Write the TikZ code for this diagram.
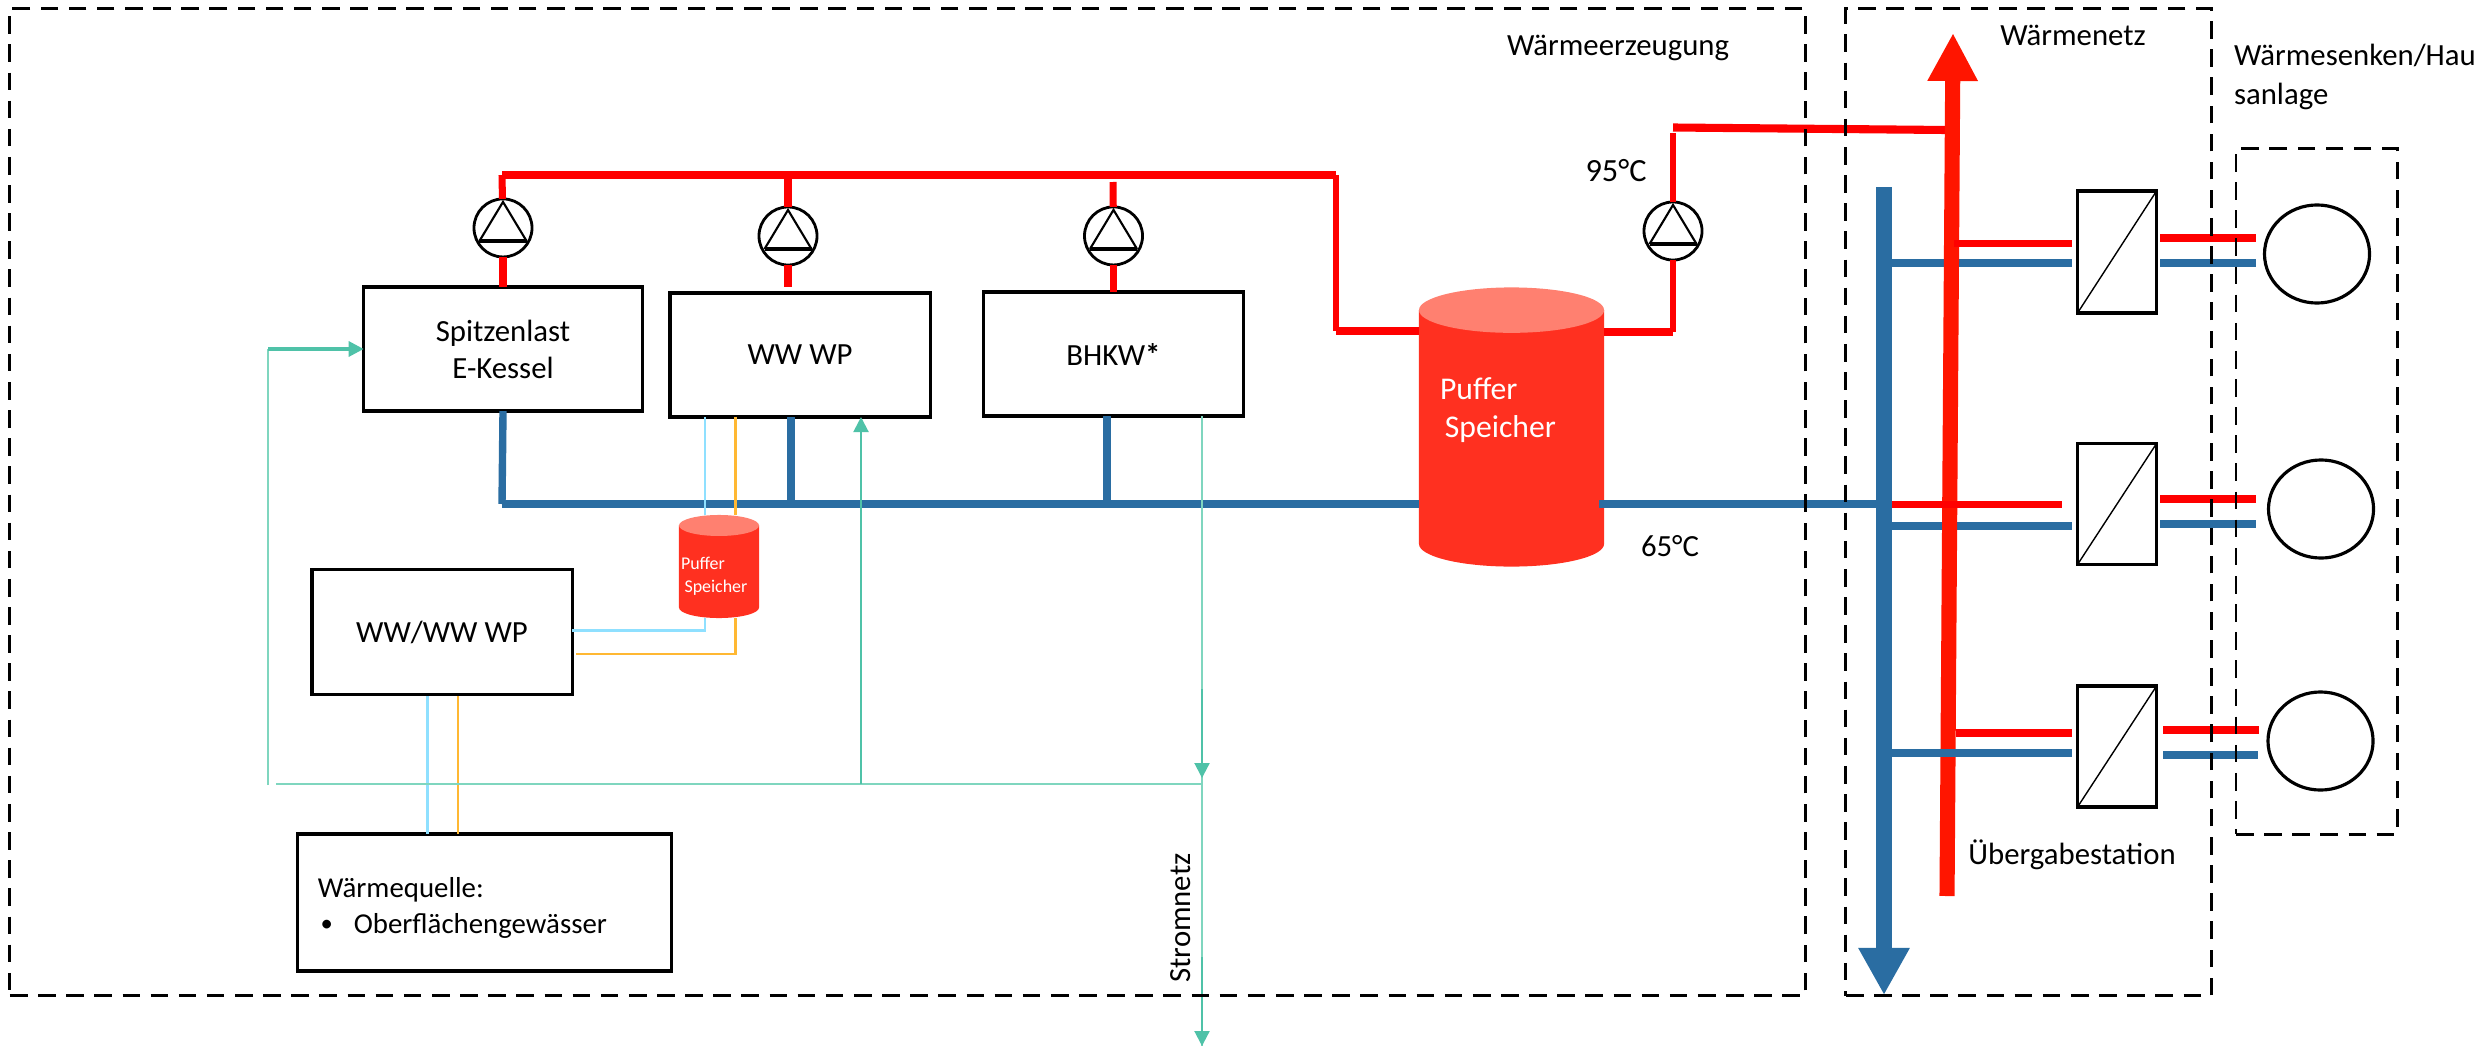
\documentclass[tikz,border=0pt]{standalone}
\usepackage{fontspec}
\setmainfont{Carlito}
\usepackage{tikz}
\usetikzlibrary{arrows.meta,positioning,shapes.geometric}

\definecolor{hotred}{HTML}{FF0000}
\definecolor{mainred}{HTML}{FF1500}
\definecolor{coldblue}{HTML}{2A6DA2}
\definecolor{tankbody}{HTML}{FF3020}
\definecolor{tanktop}{HTML}{FF8070}
\definecolor{gridgreen}{HTML}{4FC2A8}
\definecolor{gridlight}{HTML}{7FD6BF}
\definecolor{sourceblue}{HTML}{8FE0FF}
\definecolor{sourceorange}{HTML}{FFB833}

\begin{document}
\begin{tikzpicture}[
  x=0.01cm, y=-0.01cm,
  every node/.style={inner sep=0pt, outer sep=0pt, align=center, font=\fontsize{8.75}{10.5}\selectfont},
  box/.style={draw, line width=0.9pt, minimum width=2.6cm, minimum height=1.24cm},
  zone/.style={draw, line width=0.85pt, dash pattern=on 5pt off 3pt},
  pump/.style={circle, draw, line width=0.8pt, minimum size=0.58cm, path picture={
    \draw[line width=0.6pt, shift={(path picture bounding box.center)}] (-0.235cm,-0.13cm) -- (0cm,0.26cm) -- (0.235cm,-0.13cm);
    \draw[line width=1.2pt, shift={(path picture bounding box.center)}] (-0.235cm,-0.13cm) -- (0.235cm,-0.13cm);}},
  station/.style={draw, line width=0.9pt, minimum width=0.79cm, minimum height=1.22cm, path picture={
    \draw[line width=0.4pt] (path picture bounding box.south west) -- (path picture bounding box.north east);}},
  sink/.style={ellipse, draw, line width=0.9pt, minimum width=1.05cm, minimum height=0.98cm},
  tankshape/.style n args={2}{path picture={
    \fill[tankbody] ([yshift=-#2]path picture bounding box.north west) -- ([yshift=#2]path picture bounding box.south west)
      arc[start angle=180, end angle=360, x radius=#1, y radius=#2] -- ([yshift=-#2]path picture bounding box.north east) -- cycle;
    \fill[tanktop] ([yshift=-#2]path picture bounding box.north) ellipse[x radius=#1, y radius=#2];}},
  hotpipe/.style={hotred, line width=2pt},
  riser/.style={hotred, line width=1.6pt},
  coldpipe/.style={coldblue, line width=2.1pt},
  mainhot/.style={mainred, line width=4.3pt, -{Triangle[length=0.48cm,width=0.47cm]}},
  maincold/.style={coldblue, line width=4.5pt, -{Triangle[length=0.47cm,width=0.48cm]}},
  powerline/.style={gridlight, line width=0.6pt},
  powerarrow/.style={gridgreen, line width=0.6pt, -{Triangle[length=0.15cm,width=0.15cm]}},
  sourceA/.style={sourceblue, line width=0.8pt},
  sourceB/.style={sourceorange, line width=0.8pt}
]
  % Boxes
  \node[box, minimum width=2.785cm] (kessel) at (503,349) {Spitzenlast\\E-Kessel};
  \node[box] (wwp) at (800,355) {WW WP};
  \node[box] (bhkw) at (1113.5,354) {BHKW\textbf{*}};
  \node[box, minimum height=1.25cm] (wasserwp) at (442,632) {WW/WW WP};
  \node[box, minimum width=3.73cm, minimum height=1.37cm, text width=3.33cm, align=left, font=\fontsize{8.2}{10.2}\selectfont] (quelle) at (484.5,902.5)
    {\rule{0pt}{9pt}Wärmequelle:\\\makebox[10.2pt][l]{\hspace{0.8pt}\raisebox{0.6pt}{\fontsize{7}{7}\selectfont•}}Oberflächengewässer};

  % Pumps
  \node[pump, above=0.3cm of kessel] (pumpA) {};
  \node[pump] (pumpB) at (788,236) {};
  \node[pump, above=0.27cm of bhkw] (pumpC) {};
  \node[pump] (pumpD) at (1673,231) {};

  % Tanks
  \node[tankshape={0.925cm}{0.227cm}, minimum width=1.85cm, minimum height=2.79cm] (tank) at (1511.5,427) {};
  \node[tankshape={0.4cm}{0.105cm}, minimum width=0.8cm, minimum height=1.03cm] (smalltank) at (719,566.5) {};
  \node[anchor=west, align=left, text=white, font=\fontsize{9}{11}\selectfont] (tanklabel) at (1440,410) {Puffer\\\hspace{1.4pt}Speicher};
  \node[anchor=west, align=left, text=white, font=\fontsize{5.1}{6.5}\selectfont] (smalllabel) at (681,576) {Puffer\\\hspace{1pt}Speicher};

  % Hot side
  \coordinate (railA) at (502,175);
  \coordinate (railB) at (788,175);
  \coordinate (railC) at (1113,182);
  \coordinate (railD) at (1336,175);
  \coordinate (tankin) at (1336,331);
  \coordinate (tankout) at (1673,332);
  \coordinate (pumpBend) at (788,287);
  \coordinate (feedA) at (1673,133);
  \coordinate (feedB) at (1673,127.5);
  \coordinate (feedC) at (1946,130);
  \draw[hotpipe] (railA) -- (railD);
  \draw[riser] (railD) -- (tankin);
  \draw[hotpipe] (tankin) -- (tankin -| tank.west);
  \draw[hotpipe] (railA) -- (pumpA);
  \draw[hotpipe] (pumpA) -- (kessel);
  \draw[hotpipe] (railB) -- (pumpB);
  \draw[hotpipe] (pumpB) -- (pumpBend);
  \draw[hotpipe] (railC) -- (pumpC);
  \draw[hotpipe] (pumpC) -- (bhkw);
  \draw[hotpipe] (tankout -| tank.east) -- (tankout);
  \draw[riser] (tankout) -- (pumpD);
  \draw[riser] (pumpD) -- (feedA);
  \draw[hotpipe, line width=2.3pt] (feedB) -- (feedC);

  % Cold side
  \coordinate (coldA) at (502,504);
  \coordinate (coldB) at (791,504);
  \coordinate (coldC) at (1107,504);
  \coordinate (tankret) at (1599,504);
  \coordinate (busA) at (1884,504);
  \draw[coldpipe] (kessel.south) -- (coldA);
  \draw[coldpipe] (coldA) -- (coldA -| tank.west);
  \draw[coldpipe] (coldB |- wwp.south) -- (coldB);
  \draw[coldpipe] (coldC |- bhkw.south) -- (coldC);
  \draw[coldpipe] (tankret) -- (busA);

  % Source loop
  \coordinate (loopA) at (705,417);
  \coordinate (loopB) at (705,630.5);
  \coordinate (loopC) at (735.5,417);
  \coordinate (loopD) at (735.5,654);
  \coordinate (wellA) at (427.7,696);
  \coordinate (wellB) at (458,696);
  \draw[sourceA] (loopA) -- (loopA |- smalltank.north);
  \draw[sourceA] (loopB |- smalltank.south) -- (loopB) -- (loopB -| wasserwp.east);
  \draw[sourceB] (loopC) -- (loopC |- smalltank.north);
  \draw[sourceB] (loopC |- smalltank.south) -- (loopD) -- (576,654);
  \draw[sourceA] (wellA) -- (wellA |- quelle.north);
  \draw[sourceB] (wellB) -- (wellB |- quelle.north);

  % Power lines
  \coordinate (gridA) at (268,349);
  \coordinate (gridB) at (268,785);
  \coordinate (gridC) at (276,784);
  \coordinate (gridD) at (861,784);
  \coordinate (gridE) at (1202,784);
  \coordinate (gridF) at (1202,416);
  \coordinate (gridG) at (1202,689);
  \coordinate (gridH) at (1202,778);
  \coordinate (gridI) at (1202,957);
  \coordinate (gridJ) at (1202,1046);
  \draw[powerline] (gridB) -- (gridA);
  \draw[gridgreen, line width=0.9pt, -{Triangle[length=0.15cm,width=0.15cm]}] (gridA) -- (kessel.west);
  \draw[powerline, line width=0.8pt] (gridC) -- (gridE);
  \draw[powerarrow] (gridD) -- (gridD |- wwp.south);
  \draw[powerline] (gridF) -- (gridJ);
  \draw[powerarrow] (gridG) -- (gridH);
  \draw[powerarrow] (gridI) -- (gridJ);

  % Heat network
  \coordinate (netA) at (1884,187);
  \coordinate (netB) at (1884,995);
  \coordinate (netC) at (1947,896);
  \coordinate (netD) at (1953,33);
  \node[station] (hxA) at (2117,252) {};
  \node[station, minimum height=1.21cm] (hxB) at (2117,504) {};
  \node[station, minimum height=1.21cm] (hxC) at (2117,746.5) {};
  \node[sink] (sinkA) at (2317,254) {};
  \node[sink] (sinkB) at (2321,509) {};
  \node[sink] (sinkC) at (2320.5,741) {};
  \draw[maincold] (netA) -- (netB);
  \draw[coldpipe] (1884,263) -- (2071.5,263);
  \draw[coldpipe] (1884,526) -- (2071.5,526);
  \draw[mainhot] (netC) -- (netD);
  \draw[coldpipe] (1884,753) -- (2071.5,753);
  \draw[hotpipe, line width=2.1pt] (1954,243.5) -- (2071.5,243.5);
  \draw[hotpipe, line width=2.1pt] (1891.5,504.5) -- (2062,504.5);
  \draw[hotpipe, line width=2.1pt] (1956,733) -- (2071.5,733);
  \draw[hotpipe, line width=2.1pt] (2160,238) -- (2255.5,238);
  \draw[coldpipe] (2160,263) -- (2255.5,263);
  \draw[hotpipe, line width=2.1pt] (2160,499) -- (2256,499);
  \draw[coldpipe] (2160,524) -- (2256,524);
  \draw[hotpipe, line width=2.1pt] (2163,730) -- (2259,730);
  \draw[coldpipe] (2163,755) -- (2258,755);

  % Zones
  \node[zone, minimum width=17.94cm, minimum height=9.87cm] (erzeugung) at (907.5,502) {};
  \node[zone, minimum width=3.65cm, minimum height=9.87cm] (netz) at (2028.5,502) {};
  \node[zone, minimum width=1.61cm, minimum height=6.85cm] (haus) at (2316.5,491.5) {};

  % Labels
  \node (erzeugungtext) at (1618,48) {Wärmeerzeugung};
  \node (netztext) at (2073,35) {Wärmenetz};
  \node[anchor=west, align=left, font=\fontsize{8.75}{11}\selectfont] (haustext) at (2234,77) {Wärmesenken/Hau\\sanlage};
  \node[font=\fontsize{9.2}{11}\selectfont] (hottext) at (1616,171) {95°C};
  \node (coldtext) at (1670,546) {65°C};
  \node (stationtext) at (2072,855) {Übergabestation};
  \node[rotate=90] (stromtext) at (1181,918) {Stromnetz};

  \useasboundingbox (0,0) rectangle (2486,1046);
\end{tikzpicture}
\end{document}
